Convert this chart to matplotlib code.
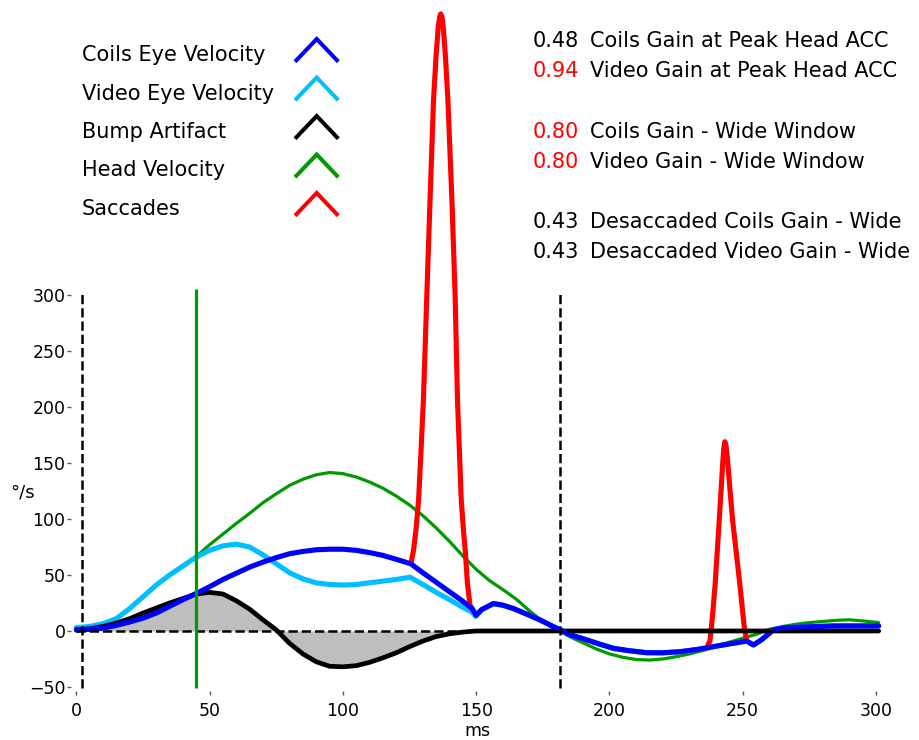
import numpy as np
import matplotlib.pyplot as plt
from matplotlib.lines import Line2D

plt.rcParams['font.family'] = ['DejaVu Sans']

### data ###
# head velocity (green)
head_t = [0, 5, 10, 15, 20, 25, 30, 35, 40, 45, 50, 55, 60, 65, 70, 75, 80, 85, 90, 95,
          100, 105, 110, 115, 120, 125, 130, 135, 140, 145, 150, 155, 160, 165, 170, 175,
          180, 185, 190, 195, 200, 205, 210, 215, 220, 225, 230, 235, 240, 245, 250, 255,
          260, 265, 270, 275, 280, 285, 290, 295, 301]
head_v = [0, 1.5, 5, 11, 20, 30.5, 41, 50, 58.5, 66.5, 77, 86.5, 96, 105, 114.5, 122.5, 130, 135.5, 139.5, 141.5,
          140.5, 137.5, 133, 127.5, 120.5, 112.5, 103, 92, 80, 67, 55, 45, 37, 28.5, 18, 8.5,
          1.5, -5, -10.5, -16, -20.5, -23.5, -25.5, -26, -25, -23, -20.5, -17.5, -14, -10, -6.5, -3,
          1.5, 4, 6, 7.5, 8.5, 9.5, 10, 9, 7.5]

# coils eye velocity (blue)
coil_t = [0, 5, 10, 15, 20, 25, 30, 35, 40, 45, 50, 55, 60, 65, 70, 75, 80, 85, 90, 95,
          100, 105, 110, 115, 120, 125.5, 130, 135, 140, 145, 148.5, 150, 152, 156.5, 160,
          164, 170, 174, 178, 181.5, 186, 191.5, 196, 201.5, 207, 214, 220, 226.5, 233,
          239, 245, 251.5, 254, 257, 261.5, 266, 272, 284, 292, 301]
coil_v = [1, 1.5, 2.5, 5, 8, 11.5, 16, 22, 28, 33.5, 39.5, 46, 51.5, 57, 61.5, 65.5, 69, 71, 72.5, 73,
          73, 72, 70, 67.5, 64, 60, 52, 43.5, 35, 26.5, 20, 14, 19, 24.5, 23,
          20, 14, 9.8, 5, 1, -4, -8, -11.5, -15.5, -17.5, -19.4, -19.5, -18.5, -16.5,
          -14, -11.5, -9, -12.5, -8, 1, 3, 3.5, 4.5, 4.5, 4.5]

# video eye velocity (light blue)
video_t = [0, 5, 10, 15, 20, 25, 30, 35, 40, 45, 50, 55, 60, 65, 70, 75, 80, 85, 90, 95,
           100, 105, 110, 115, 120, 125.2, 130, 135, 140, 145, 148.4, 149.8, 152, 156.5, 160,
           164, 170, 174, 178, 181.5, 186, 191.5, 196, 201.5, 207, 214, 220, 226.5, 233,
           239, 245, 251.5, 254, 257, 261.5, 266, 272, 284, 292, 301]
video_v = [3, 4, 6.5, 11, 20, 30.5, 41, 50, 58, 66, 72, 76, 77.5, 75, 68, 60, 52, 46.5, 43, 41.5,
           41, 41.5, 43, 44.5, 46, 48, 41.5, 34.5, 28, 21, 17, 13, 19, 24.5, 23,
           20, 14, 9.8, 5, 1, -4, -8, -11.5, -15.5, -17.5, -19.4, -19.5, -18.5, -16.5,
           -14, -11.5, -9, -12.5, -8, 1, 3, 3.5, 4.5, 4.5, 4.5]

# bump artifact (black)
bump_t = [0, 5, 10, 15, 20, 25, 30, 35, 40, 45, 50, 55, 60, 65, 70, 75, 80, 85, 90, 95,
          100, 105, 110, 115, 120, 125, 130, 135, 140, 145, 150, 200, 250, 301]
bump_v = [1, 2, 4, 7, 11, 16, 20.5, 25, 29, 33, 34.5, 33, 27, 19.5, 10, 1, -11, -20.5, -27.5, -31.5,
          -32, -31, -28, -24, -19.5, -14, -9, -5, -2.5, -1, 0, 0, 0, 0]

# saccades (red)
sac1_t = [125.5, 126.5, 127.5, 128.4, 129.3, 130.2, 131.5, 132.7, 134, 135, 135.8, 136.3, 136.7,
          137.2, 137.7, 138.5, 139.4, 140.9, 142.1, 143, 144.4, 145.3, 145.9, 146.7, 147.7, 148.4]
sac1_v = [60, 72, 92, 117, 160, 206, 300, 385, 474, 515, 540, 548, 551,
          548, 538, 512, 474, 385, 300, 206, 117, 88, 72, 43, 23, 20]
sac2_t = [237, 237.7, 238.6, 239.6, 241.2, 242.5, 242.9, 243.3, 243.7, 244.2, 246.2, 249, 250.5, 251.5]
sac2_v = [-12, -9, 12, 40, 99, 150, 163, 169, 166, 155, 99, 40, 5, -9]

peak_acc_t = 45
window = [2.2, 181.5]

legend_labels = ['Coils Eye Velocity', 'Video Eye Velocity', 'Bump Artifact', 'Head Velocity', 'Saccades']
legend_colors = ['#0000ff', '#00bfff', '#000000', '#009900', '#ff0000']

gain_values = ['0.48', '0.94', '0.80', '0.80', '0.43', '0.43']
gain_colors = ['black', 'red', 'red', 'red', 'black', 'black']
gain_labels = ['Coils Gain at Peak Head ACC', 'Video Gain at Peak Head ACC',
               'Coils Gain - Wide Window', 'Video Gain - Wide Window',
               'Desaccaded Coils Gain - Wide', 'Desaccaded Video Gain - Wide']
gain_baselines = [47, 77, 138, 168, 228, 257.5]  # px from top

### figure ###
W, H = 919, 740
fig = plt.figure(figsize=(W / 100, H / 100), dpi=100)
ax = fig.add_axes([71 / W, 49 / H, 813 / W, 681 / H])

line_kw = dict(solid_joinstyle='round', solid_capstyle='round')
ax.fill_between(bump_t[:31], bump_v[:31], 0, color='#bebebe', lw=0, zorder=1)
ax.plot(head_t, head_v, color='#009900', lw=2.3, zorder=2, **line_kw)
ax.plot(video_t, video_v, color='#00bfff', lw=3.7, zorder=3, **line_kw)
ax.plot(sac1_t, sac1_v, color='#ff0000', lw=3.7, zorder=4, **line_kw)
ax.plot(sac2_t, sac2_v, color='#ff0000', lw=3.7, zorder=4, **line_kw)
ax.plot(bump_t, bump_v, color='black', lw=3.4, zorder=5, **line_kw)
ax.plot(coil_t, coil_v, color='#0000ff', lw=3.7, zorder=6, **line_kw)

ax.plot([0, 301], [0, 0], color='black', ls='--', lw=1.8, zorder=7)
ax.vlines(window, -51, 303, colors='black', linestyles='--', lw=1.8, zorder=7)
ax.vlines(peak_acc_t, -51, 305, colors='#009900', lw=2.3, zorder=8)

ax.set_xlim(-2, 303)
ax.set_ylim(-53.6, 554.5)
ax.set_xticks([0, 50, 100, 150, 200, 250, 300])
ax.set_yticks([-50, 0, 50, 100, 150, 200, 250, 300])
ax.tick_params(axis='both', colors='0.35', labelcolor='black', labelsize=12.5, length=3, width=1)
ax.tick_params(axis='y', pad=1)
ax.tick_params(axis='x', pad=5)
for s in ax.spines.values():
    s.set_visible(False)

ax.set_xlabel('ms', fontsize=12.5)
ax.xaxis.label.set_va('center')
ax.xaxis.set_label_coords(0.5, -0.059)
ax.set_ylabel('°/s', fontsize=13, rotation=0, ha='center', va='center')
ax.yaxis.set_label_coords(-0.060, 0.292)

# legend: text + chevron
for i, (lab, col) in enumerate(zip(legend_labels, legend_colors)):
    base = 61 + 38.5 * i
    fig.text(82 / W, 1 - base / H, lab, fontsize=15, va='baseline', ha='left')
    xs = np.array([295, 316.7, 338.3]) / W
    ys = 1 - np.array([base + 0.7, base - 22, base + 0.7]) / H
    fig.add_artist(Line2D(xs, ys, color=col, lw=2.9, solid_joinstyle='miter',
                          solid_capstyle='butt', transform=fig.transFigure))

# gains
for val, col, lab, base in zip(gain_values, gain_colors, gain_labels, gain_baselines):
    fig.text(533 / W, 1 - base / H, val, color=col, fontsize=15, va='baseline', ha='left')
    fig.text(590 / W, 1 - base / H, lab, color='black', fontsize=15, va='baseline', ha='left')

fig.savefig('out.png', dpi=100)
